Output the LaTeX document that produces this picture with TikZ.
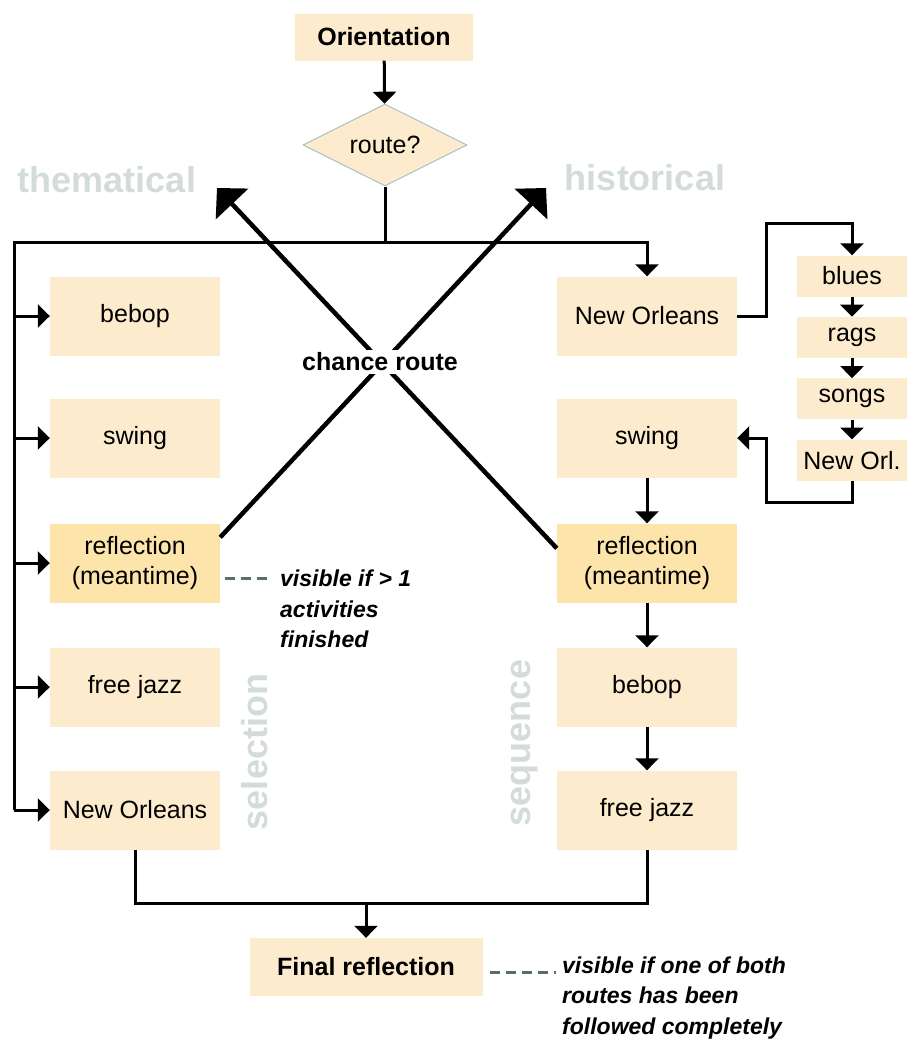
\documentclass[tikz,border=0pt]{standalone}
\usepackage{fontspec}
\setmainfont{Liberation Sans}
\usepackage{xcolor}
\usetikzlibrary{shapes.geometric,arrows.meta,positioning}
\definecolor{boxfill}{RGB}{253,235,206}
\definecolor{reflfill}{RGB}{253,228,170}
\definecolor{ghost}{RGB}{212,219,219}
\definecolor{hintgray}{RGB}{90,110,110}
\definecolor{edgeblue}{RGB}{170,192,196}

\begin{document}
\begin{tikzpicture}[x=1pt, y=-1pt,
    box/.style={fill=boxfill, minimum width=170pt, minimum height=79pt, align=center, font=\fontsize{25}{30}\selectfont},
    rbox/.style={box, minimum width=180pt},
    sbox/.style={box, minimum width=110pt, minimum height=41pt},
    line/.style={line width=3pt},
    conn/.style={line, -{Triangle[width=23pt,length=12pt]}},
    bigarrow/.style={line width=4.5pt, -{Triangle[width=44pt,length=22pt]}},
    ghostlabel/.style={text=ghost, font=\fontsize{36}{40}\selectfont\bfseries},
    note/.style={align=left, inner sep=0pt, font=\fontsize{23}{30.5}\selectfont\bfseries\itshape},
    hint/.style={line width=3pt, hintgray, dash pattern=on 10pt off 6pt}
]
    \useasboundingbox (0,0) rectangle (908,1044);

    % start and choice
    \node[box, minimum width=178pt, minimum height=47pt, font=\fontsize{25}{30}\selectfont\bfseries] (orient) at (384,37) {Orientation};
    \node[diamond, aspect=2, fill=boxfill, draw=edgeblue, line width=1pt, inner sep=0pt, minimum width=164pt, minimum height=82pt, font=\fontsize{25}{30}\selectfont] (route) at (385,145) {route?};

    % selection column
    \node[box] (l1) at (135,316) {bebop};
    \node[box] (l2) at (135,438) {swing};
    \node[box, fill=reflfill] (l3) at (135,563) {reflection\\(meantime)};
    \node[box] (l4) at (135,687) {free jazz};
    \node[box] (l5) at (135,810) {New Orleans};

    % sequence column
    \node[rbox] (r1) at (647,316) {New Orleans};
    \node[rbox] (r2) at (647,438) {swing};
    \node[rbox, fill=reflfill] (r3) at (647,563) {reflection\\(meantime)};
    \node[rbox] (r4) at (647,687) {bebop};
    \node[rbox] (r5) at (647,810) {free jazz};

    % New Orleans parts
    \node[sbox] (b1) at (852,276) {blues};
    \node[sbox, below=20pt of b1] (b2) {rags};
    \node[sbox, below=20pt of b2] (b3) {songs};
    \node[sbox, below=20pt of b3] (b4) {New Orl.};

    \node[box, minimum width=233pt, minimum height=58pt, font=\fontsize{25}{30}\selectfont\bfseries] (final) at (366,967) {Final reflection};

    % connectors
    \coordinate (lt) at (14,242);
    \coordinate (lb) at (14,810);
    \coordinate (bus) at (0,903);
    \draw[conn] (orient) -- (route);
    \draw[line] (route.south) -- (route.south |- lt);
    \draw[conn] (lb) -- (lt) -| (r1.north);
    \foreach \i in {1,...,5} {
        \draw[conn] (l\i.west -| lt) -- (l\i.west);
    }
    \foreach \a/\b in {r2/r3, r3/r4, r4/r5, b1/b2, b2/b3, b3/b4} {
        \draw[conn] (\a) -- (\b);
    }
    \draw[conn] (r1.east) -- ++(29,0) |- ([yshift=32pt]b1.north) -- (b1.north);
    \draw[conn] (b4.south) -- ++(0,22) -| ([xshift=29pt]r2.east) -- (r2.east);
    \draw[line] (l5.south) -- (l5.south |- bus) -| (r5.south);
    \draw[conn] (final.north |- bus) -- (final.north);

    % chance route
    \coordinate (thema) at (217,188);
    \coordinate (histo) at (546,188);
    \draw[bigarrow] ([yshift=-25pt]r3.north west) -- (thema);
    \draw[bigarrow] ([yshift=-14pt]l3.north east) -- (histo);
    \node[fill=white, inner sep=3pt, font=\fontsize{25}{30}\selectfont\bfseries] (chance) at (380,362) {chance route};

    % route names
    \node[ghostlabel] (thlab) at (107,180) {thematical};
    \node[ghostlabel] (hilab) at (645,178) {historical};
    \node[ghostlabel, rotate=90] (sellab) at (255,752) {selection};
    \node[ghostlabel, rotate=90] (seqlab) at (525,743) {sequence};

    % visibility notes
    \node[note, anchor=west] (note1) at (280,609) {visible if > 1\\activities\\finished};
    \coordinate (h1) at ([xshift=5pt,yshift=-15pt]l3.east);
    \draw[hint] (h1) -- ([xshift=-7pt]h1 -| note1.west);
    \node[note, anchor=west] (note2) at (562,998) {visible if one of both\\routes has been\\followed completely};
    \coordinate (h2) at ([xshift=7pt,yshift=-5pt]final.east);
    \draw[hint] (h2) -- ([xshift=-6pt]h2 -| note2.west);
\end{tikzpicture}
\end{document}
